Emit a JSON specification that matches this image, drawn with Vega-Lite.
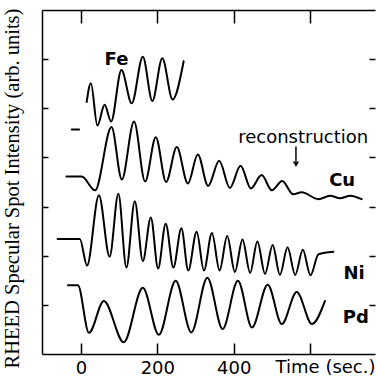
{
  "$schema": "https://vega.github.io/schema/vega-lite/v6.json",
  "width": 333,
  "height": 344,
  "autosize": {"type": "none"},
  "padding": {"left": 42, "top": 10, "right": 1, "bottom": 23},
  "background": "white",
  "config": {
    "view": {"stroke": null},
    "axis": {"grid": false, "domainColor": "black", "tickColor": "black", "labelColor": "black", "titleColor": "black", "domainWidth": 1.5, "tickWidth": 1.5}
  },
  "datasets": {
    "curves": [
      {"series": "Fe0", "t": -24, "v": 4.57}, {"series": "Fe0", "t": -5, "v": 4.57},
      {"series": "Fe", "t": 15, "v": 5.13}, {"series": "Fe", "t": 26, "v": 5.51}, {"series": "Fe", "t": 43, "v": 4.65}, {"series": "Fe", "t": 62, "v": 5.07}, {"series": "Fe", "t": 79, "v": 4.73}, {"series": "Fe", "t": 106, "v": 5.78}, {"series": "Fe", "t": 133, "v": 5.10}, {"series": "Fe", "t": 162, "v": 6.05}, {"series": "Fe", "t": 187, "v": 5.15}, {"series": "Fe", "t": 213, "v": 6.02}, {"series": "Fe", "t": 240, "v": 5.18}, {"series": "Fe", "t": 269, "v": 5.96},
      {"series": "Cu", "t": -38, "v": 3.61}, {"series": "Cu", "t": 2, "v": 3.61}, {"series": "Cu", "t": 37, "v": 3.33}, {"series": "Cu", "t": 80, "v": 4.62}, {"series": "Cu", "t": 107, "v": 3.55}, {"series": "Cu", "t": 139, "v": 4.73}, {"series": "Cu", "t": 168, "v": 3.51}, {"series": "Cu", "t": 196, "v": 4.41}, {"series": "Cu", "t": 223, "v": 3.50}, {"series": "Cu", "t": 251, "v": 4.21}, {"series": "Cu", "t": 280, "v": 3.47}, {"series": "Cu", "t": 306, "v": 4.06}, {"series": "Cu", "t": 333, "v": 3.42}, {"series": "Cu", "t": 362, "v": 3.93}, {"series": "Cu", "t": 390, "v": 3.38}, {"series": "Cu", "t": 418, "v": 3.83}, {"series": "Cu", "t": 445, "v": 3.37}, {"series": "Cu", "t": 473, "v": 3.64}, {"series": "Cu", "t": 500, "v": 3.33}, {"series": "Cu", "t": 527, "v": 3.52}, {"series": "Cu", "t": 556, "v": 3.25}, {"series": "Cu", "t": 578, "v": 3.29}, {"series": "Cu", "t": 622, "v": 3.15}, {"series": "Cu", "t": 652, "v": 3.22}, {"series": "Cu", "t": 679, "v": 3.17}, {"series": "Cu", "t": 705, "v": 3.22}, {"series": "Cu", "t": 735, "v": 3.15},
      {"series": "Ni", "t": -61, "v": 2.34}, {"series": "Ni", "t": -3, "v": 2.34}, {"series": "Ni", "t": 16, "v": 1.80}, {"series": "Ni", "t": 47, "v": 3.23}, {"series": "Ni", "t": 75, "v": 1.98}, {"series": "Ni", "t": 98, "v": 3.26}, {"series": "Ni", "t": 119, "v": 1.76}, {"series": "Ni", "t": 141, "v": 3.11}, {"series": "Ni", "t": 162, "v": 1.89}, {"series": "Ni", "t": 183, "v": 2.78}, {"series": "Ni", "t": 202, "v": 1.74}, {"series": "Ni", "t": 222, "v": 2.65}, {"series": "Ni", "t": 242, "v": 1.76}, {"series": "Ni", "t": 263, "v": 2.56}, {"series": "Ni", "t": 281, "v": 1.70}, {"series": "Ni", "t": 303, "v": 2.49}, {"series": "Ni", "t": 322, "v": 1.70}, {"series": "Ni", "t": 343, "v": 2.46}, {"series": "Ni", "t": 363, "v": 1.70}, {"series": "Ni", "t": 383, "v": 2.40}, {"series": "Ni", "t": 403, "v": 1.67}, {"series": "Ni", "t": 423, "v": 2.33}, {"series": "Ni", "t": 443, "v": 1.65}, {"series": "Ni", "t": 462, "v": 2.29}, {"series": "Ni", "t": 482, "v": 1.63}, {"series": "Ni", "t": 502, "v": 2.22}, {"series": "Ni", "t": 521, "v": 1.61}, {"series": "Ni", "t": 541, "v": 2.17}, {"series": "Ni", "t": 561, "v": 1.61}, {"series": "Ni", "t": 581, "v": 2.12}, {"series": "Ni", "t": 601, "v": 1.60}, {"series": "Ni", "t": 622, "v": 2.03}, {"series": "Ni", "t": 661, "v": 2.08},
      {"series": "Pd", "t": -34, "v": 1.40}, {"series": "Pd", "t": -8, "v": 1.40}, {"series": "Pd", "t": 21, "v": 0.43}, {"series": "Pd", "t": 60, "v": 1.08}, {"series": "Pd", "t": 112, "v": 0.24}, {"series": "Pd", "t": 162, "v": 1.35}, {"series": "Pd", "t": 204, "v": 0.39}, {"series": "Pd", "t": 248, "v": 1.49}, {"series": "Pd", "t": 289, "v": 0.44}, {"series": "Pd", "t": 331, "v": 1.55}, {"series": "Pd", "t": 371, "v": 0.51}, {"series": "Pd", "t": 411, "v": 1.49}, {"series": "Pd", "t": 448, "v": 0.54}, {"series": "Pd", "t": 489, "v": 1.41}, {"series": "Pd", "t": 526, "v": 0.61}, {"series": "Pd", "t": 565, "v": 1.26}, {"series": "Pd", "t": 605, "v": 0.61}, {"series": "Pd", "t": 639, "v": 1.08}
    ],
    "labels": [
      {"label": "Fe", "t": 93, "v": 5.98},
      {"label": "Cu", "t": 684, "v": 3.52},
      {"label": "Ni", "t": 715, "v": 1.63},
      {"label": "Pd", "t": 720, "v": 0.73}
    ],
    "note": [{"label": "reconstruction", "t": 582, "v": 4.29}],
    "arrow": [{"t": 563, "v1": 4.22, "v2": 3.92, "vh": 3.86}]
  },
  "layer": [
    {
      "data": {"name": "curves"},
      "mark": {"type": "line", "interpolate": "monotone", "color": "black", "strokeWidth": 2, "strokeJoin": "round", "strokeCap": "round"},
      "encoding": {
        "x": {"field": "t", "type": "quantitative", "scale": {"domain": [-102, 770], "nice": false, "zero": false},
          "axis": {"orient": "bottom", "values": [0, 200, 400, 600], "labelExpr": "datum.value == 600 ? '' : datum.label", "tickSize": -11, "labelPadding": 16, "labelFont": "DejaVu Sans", "labelFontSize": 18, "title": "Time (sec.)", "titleFont": "DejaVu Sans", "titleFontSize": 18, "titleFontWeight": "normal", "titleAlign": "right", "titleBaseline": "alphabetic", "titleX": 333, "titleY": 18}},
        "y": {"field": "v", "type": "quantitative", "scale": {"domain": [0, 7], "nice": false, "zero": false},
          "axis": {"orient": "left", "values": [1, 2, 3, 4, 5, 6], "labels": false, "tickSize": -6, "title": "RHEED Specular Spot Intensity (arb. units)", "titleFont": "Liberation Serif", "titleFontSize": 20.5, "titleFontWeight": "normal", "titleAlign": "center", "titleBaseline": "middle", "titleAngle": -90, "titleX": -30, "titleY": 178}},
        "detail": {"field": "series"}
      }
    },
    {
      "data": {"name": "labels"},
      "mark": {"type": "text", "font": "DejaVu Sans", "fontWeight": "bold", "fontSize": 18, "align": "center", "baseline": "middle", "color": "black"},
      "encoding": {
        "x": {"field": "t", "type": "quantitative", "axis": {"orient": "top", "values": [0, 200, 400, 600], "labels": false, "tickSize": -13, "title": null}},
        "y": {"field": "v", "type": "quantitative", "axis": {"orient": "right", "values": [1, 2, 3, 4, 5, 6], "labels": false, "tickSize": -6, "domain": false, "title": null}},
        "text": {"field": "label"}
      }
    },
    {
      "data": {"name": "note"},
      "mark": {"type": "text", "font": "DejaVu Sans", "fontSize": 18, "align": "center", "baseline": "alphabetic", "color": "black"},
      "encoding": {
        "x": {"field": "t", "type": "quantitative", "axis": null},
        "y": {"field": "v", "type": "quantitative", "axis": null},
        "text": {"field": "label"}
      }
    },
    {
      "data": {"name": "arrow"},
      "mark": {"type": "rule", "color": "black", "strokeWidth": 1.5},
      "encoding": {
        "x": {"field": "t", "type": "quantitative", "axis": null},
        "y": {"field": "v1", "type": "quantitative", "axis": null},
        "y2": {"field": "v2"}
      }
    },
    {
      "data": {"name": "arrow"},
      "mark": {"type": "point", "shape": "triangle-down", "filled": true, "color": "black", "size": 40, "opacity": 1},
      "encoding": {
        "x": {"field": "t", "type": "quantitative", "axis": null},
        "y": {"field": "vh", "type": "quantitative", "axis": null}
      }
    }
  ]
}
